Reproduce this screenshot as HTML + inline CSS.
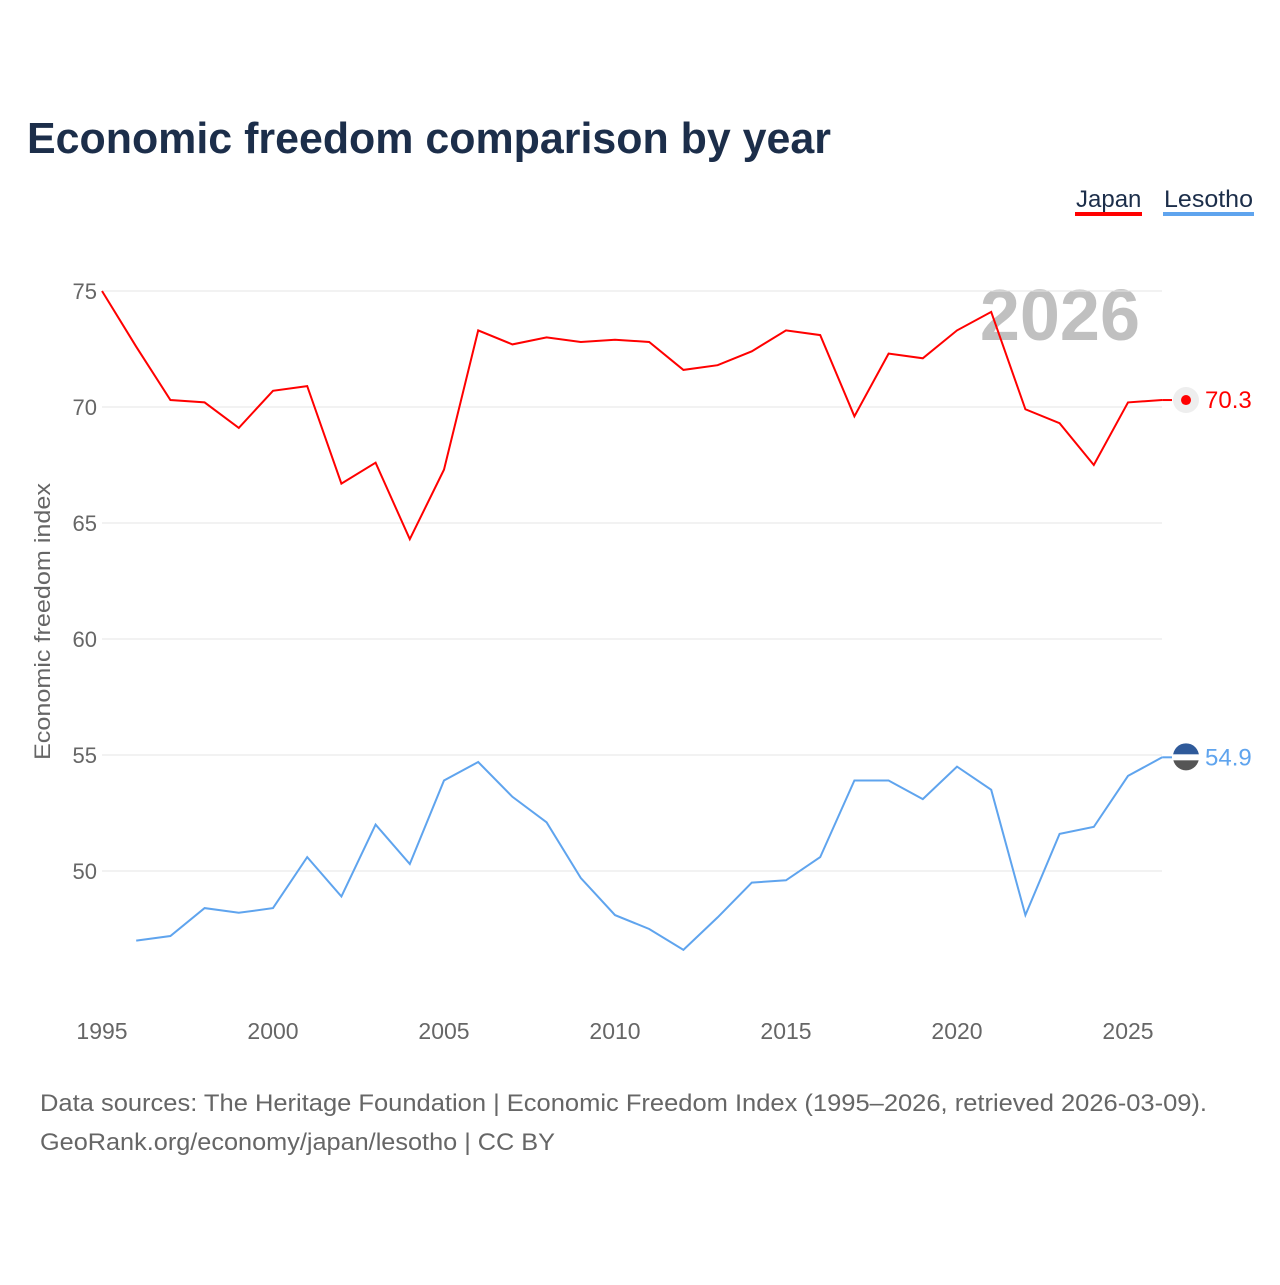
<!DOCTYPE html>
<html><head><meta charset="utf-8"><style>
body{margin:0;background:#fff;font-family:"Liberation Sans",sans-serif}
</style></head><body>
<svg width="1280" height="1280" xmlns="http://www.w3.org/2000/svg">
<text x="27" y="153" font-size="44" font-weight="bold" fill="#1c2e4a" textLength="804" lengthAdjust="spacingAndGlyphs">Economic freedom comparison by year</text>
<g><text x="1076" y="207" font-size="24" fill="#1c2e4a">Japan</text><rect x="1075" y="212" width="67" height="4" fill="#ff0000"/></g>
<g><text x="1164" y="207" font-size="24" fill="#1c2e4a" textLength="89" lengthAdjust="spacingAndGlyphs">Lesotho</text><rect x="1163" y="212" width="91" height="4" fill="#5fa4ee"/></g>
<text x="1140" y="340" font-size="72" font-weight="bold" fill="#c0c0c0" text-anchor="end">2026</text>
<g id="grid"></g><g id="xt"></g>
<text transform="translate(50,760) rotate(-90)" font-size="22" fill="#666" textLength="277" lengthAdjust="spacingAndGlyphs">Economic freedom index</text>
<g id="plot"></g>
<text x="40" y="1111" font-size="24" fill="#666" textLength="1167" lengthAdjust="spacingAndGlyphs">Data sources: The Heritage Foundation | Economic Freedom Index (1995–2026, retrieved 2026-03-09).</text>
<text x="40" y="1150" font-size="24" fill="#666" textLength="515" lengthAdjust="spacingAndGlyphs">GeoRank.org/economy/japan/lesotho | CC BY</text>
</svg>
<script>
const years=[1995,1996,1997,1998,1999,2000,2001,2002,2003,2004,2005,2006,2007,2008,2009,2010,2011,2012,2013,2014,2015,2016,2017,2018,2019,2020,2021,2022,2023,2024,2025,2026];
const japan=[75.0,72.6,70.3,70.2,69.1,70.7,70.9,66.7,67.6,64.3,67.3,73.3,72.7,73.0,72.8,72.9,72.8,71.6,71.8,72.4,73.3,73.1,69.6,72.3,72.1,73.3,74.1,69.9,69.3,67.5,70.2,70.3];
const lesotho=[null,47.0,47.2,48.4,48.2,48.4,50.6,48.9,52.0,50.3,53.9,54.7,53.2,52.1,49.7,48.1,47.5,46.6,48.0,49.5,49.6,50.6,53.9,53.9,53.1,54.5,53.5,48.1,51.6,51.9,54.1,54.9];
const yTicks=[50,55,60,65,70,75];
const xTicks=[1995,2000,2005,2010,2015,2020,2025];
const NS="http://www.w3.org/2000/svg";
const X=v=>102+(v-1995)*34.2, Y=v=>291+(75-v)*23.2;
function mk(t,a,p){const e=document.createElementNS(NS,t);for(const k in a)e.setAttribute(k,a[k]);p.appendChild(e);return e;}
const grid=document.getElementById('grid'),xt=document.getElementById('xt'),plot=document.getElementById('plot');
yTicks.forEach(v=>{
 const l=mk('line',{x1:102,x2:1162,y1:Y(v),y2:Y(v),stroke:'#e6e6e6','stroke-width':1},grid);
 
 
 const t=mk('text',{x:97,y:Y(v)+8,'font-size':22,fill:'#666','text-anchor':'end'},grid);t.textContent=v;
 
 
});
xTicks.forEach(v=>{
 const t=mk('text',{x:X(v),y:1039,'font-size':23,fill:'#666','text-anchor':'middle'},xt);t.textContent=v;
 
 
});
function series(vals,color,name){
 let d='';vals.forEach((v,i)=>{if(v==null)return;d+=(d?'L':'M')+X(years[i]).toFixed(1)+','+Y(v).toFixed(1);});
 const p=mk('path',{d:d,fill:'none',stroke:color,'stroke-width':2},plot);
 
 
 const last=vals[vals.length-1],ly=Y(last),lx=X(years[years.length-1]);
 mk('line',{x1:lx,x2:1172,y1:ly,y2:ly,stroke:color,'stroke-width':2},plot);
 const c=mk('circle',{cx:1186,cy:ly,r:13,fill:name==='japan'?'#eeeeee':'#555'},plot);
 
 
 if(name==='japan')mk('circle',{cx:1186,cy:ly,r:5,fill:'#ff0000'},plot);
 else{mk('path',{d:'M1173,'+(ly-1)+'a13,13 0 0 1 26,0z',fill:'#2f5a9a'},plot);mk('rect',{x:1173,y:ly-3,width:26,height:6,fill:'#fff'},plot);}
 const t=mk('text',{x:1205,y:ly+8,'font-size':24,fill:color},plot);t.textContent=last.toFixed(1);
 
 
}
series(japan,'#ff0000','japan');
series(lesotho,'#5fa4ee','lesotho');
</script>
</body></html>
